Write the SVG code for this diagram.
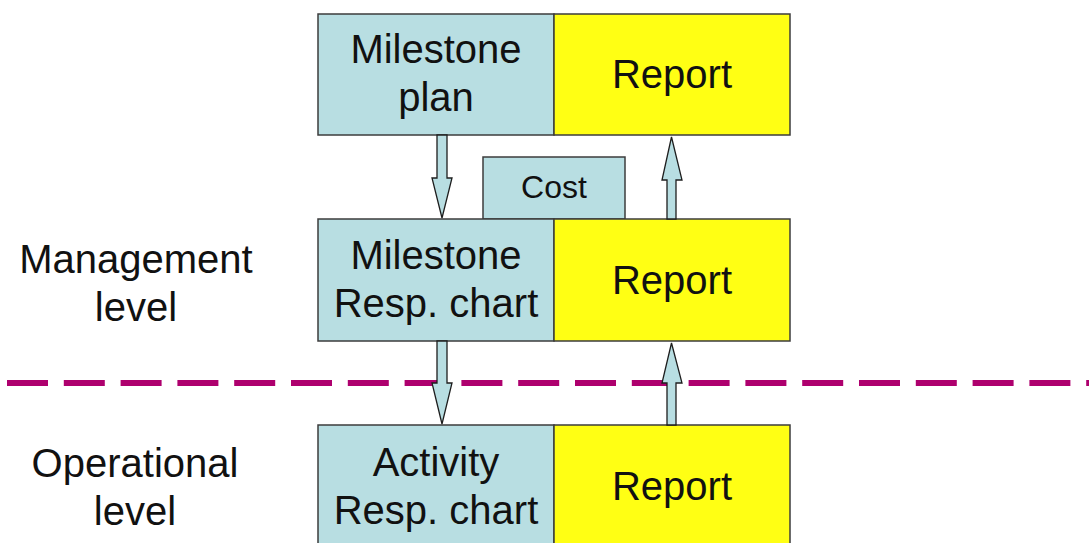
<svg xmlns="http://www.w3.org/2000/svg" width="1089" height="543" viewBox="0 0 1089 543">
  <style>
    .doc { fill: #B8DEE2; stroke: #3C3C3C; stroke-width: 1.5; }
    .rep { fill: #FFFF14; stroke: #3C3C3C; stroke-width: 1.5; }
    .arrow { fill: #B8DEE2; stroke: #1E1E1E; stroke-width: 1.3; stroke-linejoin: miter; }
    text { font-family: "Liberation Sans", Arial, sans-serif; fill: #111; text-anchor: middle; }
    .big { font-size: 40px; }
    .small { font-size: 32px; }
    .divider { stroke: #AE006E; stroke-width: 6; stroke-dasharray: 41 15.8; fill: none; }
  </style>
  <rect width="1089" height="543" fill="#FFFFFF"/>

  <!-- level labels -->
  <g id="label-management">
    <text class="big" x="136" y="273">Management</text>
    <text class="big" x="136" y="321">level</text>
  </g>
  <g id="label-operational">
    <text class="big" x="135" y="477">Operational</text>
    <text class="big" x="135" y="525">level</text>
  </g>

  <!-- level divider -->
  <line class="divider" x1="7" y1="383" x2="1089" y2="383"/>

  <!-- Cost box sits between the first two rows -->
  <g id="cost">
    <rect class="doc" x="483" y="157" width="142" height="62"/>
    <text class="small" x="554" y="198">Cost</text>
  </g>

  <!-- top row -->
  <g id="milestone-plan">
    <rect class="doc" x="318" y="14" width="236" height="121"/>
    <text class="big" x="436" y="63">Milestone</text>
    <text class="big" x="436" y="111">plan</text>
  </g>
  <g id="report-top">
    <rect class="rep" x="554" y="14" width="236" height="121"/>
    <text class="big" x="672" y="88">Report</text>
  </g>

  <!-- middle row -->
  <g id="milestone-resp-chart">
    <rect class="doc" x="318" y="219" width="236" height="122"/>
    <text class="big" x="436" y="269">Milestone</text>
    <text class="big" x="436" y="317">Resp. chart</text>
  </g>
  <g id="report-middle">
    <rect class="rep" x="554" y="219" width="236" height="122"/>
    <text class="big" x="672" y="294">Report</text>
  </g>

  <!-- bottom row -->
  <g id="activity-resp-chart">
    <rect class="doc" x="318" y="425" width="236" height="130"/>
    <text class="big" x="436" y="476">Activity</text>
    <text class="big" x="436" y="524">Resp. chart</text>
  </g>
  <g id="report-bottom">
    <rect class="rep" x="554" y="425" width="236" height="130"/>
    <text class="big" x="672" y="500">Report</text>
  </g>

  <!-- block arrows -->
  <g id="connectors">
    <polygon class="arrow" points="437,135 447,135 447,178 452,178 442,218 432,178 437,178"/>
    <polygon class="arrow" points="667,219 676,219 676,180 682,180 671.5,137 662,180 667,180"/>
    <polygon class="arrow" points="437,341 447,341 447,383 452,383 442,424 432,383 437,383"/>
    <polygon class="arrow" points="667,425 676,425 676,383 682,383 671.5,343 662,383 667,383"/>
  </g>
</svg>
